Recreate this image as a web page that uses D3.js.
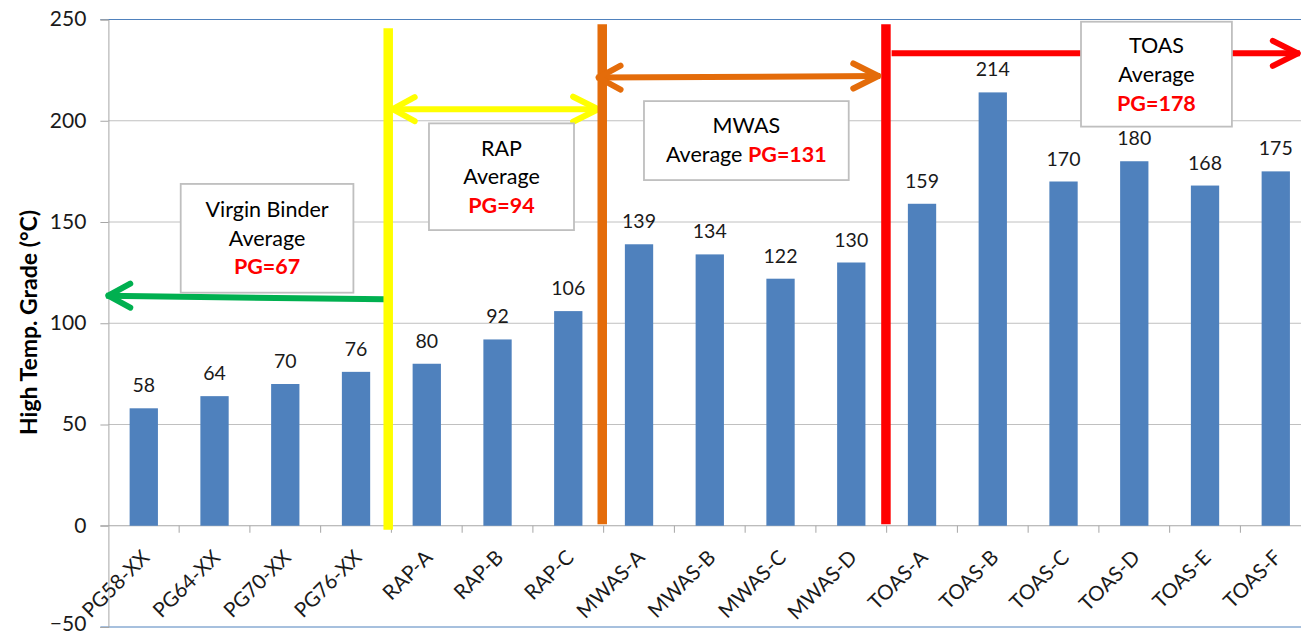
<!DOCTYPE html>
<html>
<head>
<meta charset="utf-8">
<script src="https://cdn.jsdelivr.net/npm/d3@7"></script>
<style>
  html, body { margin: 0; padding: 0; background: #ffffff; }
  svg { display: block; }
  text { font-family: Lato, "Open Sans", "Liberation Sans", sans-serif; }
</style>
</head>
<body>
<svg id="chart" width="1301" height="634"></svg>
<script>
// Binder samples and their high-temperature performance grade (°C)
const categories = ["PG58-XX", "PG64-XX", "PG70-XX", "PG76-XX",
                    "RAP-A", "RAP-B", "RAP-C",
                    "MWAS-A", "MWAS-B", "MWAS-C", "MWAS-D",
                    "TOAS-A", "TOAS-B", "TOAS-C", "TOAS-D", "TOAS-E", "TOAS-F"];
const gradeValues = [58, 64, 70, 76, 80, 92, 106, 139, 134, 122, 130,
                     159, 214, 170, 180, 168, 175];
const yTicks = [-50, 0, 50, 100, 150, 200, 250];

// Group averages
const groupNames = ["Virgin Binder", "RAP", "MWAS", "TOAS"];
const groupAverages = [67, 94, 131, 178];

const W = 1301, H = 634;
const svg = d3.select("#chart");

const left = 108.4, step = 70.75;
const x = d3.scaleBand()
  .domain(categories)
  .range([left, left + step * categories.length])
  .paddingInner(0.6)
  .paddingOuter(0.3);
// continuous position along the category axis (0 = left edge of the first slot)
const pos = d3.scaleLinear().domain([0, categories.length]).range(x.range());
const y = d3.scaleLinear().domain([-50, 250]).range([627, 19.5]);

const GRID = "#c0c0c0", AXIS = "#a6a6a6", FRAME = "#4f81bd";

// horizontal gridlines
svg.append("g").selectAll("line")
  .data([50, 100, 150, 200])
  .join("line")
  .attr("x1", left).attr("x2", W)
  .attr("y1", d => y(d)).attr("y2", d => y(d))
  .attr("stroke", GRID).attr("stroke-width", 1);

// top and bottom border of the plot area
svg.append("g").selectAll("line")
  .data([250, -50])
  .join("line")
  .attr("x1", left - 8).attr("x2", W)
  .attr("y1", d => y(d)).attr("y2", d => y(d))
  .attr("stroke", FRAME).attr("stroke-width", 1);

// y axis
const yAxis = svg.append("g")
  .attr("transform", `translate(${left},0)`)
  .call(d3.axisLeft(y).tickValues(yTicks).tickSize(8).tickPadding(14));
yAxis.select(".domain").attr("stroke", AXIS);
yAxis.selectAll(".tick line").attr("stroke", AXIS);
yAxis.selectAll(".tick text")
  .attr("fill", "#1a1a1a")
  .attr("dy", d => d === -50 ? "0.18em" : "0.3em")
  .style("font-size", "21px")
  .style("font-family", "Lato, 'Open Sans', sans-serif");

// zero line with category ticks
svg.append("line")
  .attr("x1", left - 8).attr("x2", W)
  .attr("y1", y(0)).attr("y2", y(0))
  .attr("stroke", AXIS).attr("stroke-width", 1);
svg.append("g").selectAll("line")
  .data(d3.range(1, categories.length))
  .join("line")
  .attr("x1", d => pos(d)).attr("x2", d => pos(d))
  .attr("y1", y(0)).attr("y2", y(0) + 7)
  .attr("stroke", AXIS);

// bars
svg.append("g").selectAll("rect")
  .data(categories)
  .join("rect")
  .attr("x", d => x(d))
  .attr("width", x.bandwidth())
  .attr("y", (d, i) => y(gradeValues[i]))
  .attr("height", (d, i) => y(0) - y(gradeValues[i]))
  .attr("fill", "#4f81bd");

// value labels
svg.append("g").selectAll("text")
  .data(categories)
  .join("text")
  .attr("x", d => x(d) + x.bandwidth() / 2)
  .attr("y", (d, i) => y(gradeValues[i]) - 16)
  .attr("text-anchor", "middle")
  .attr("fill", "#1a1a1a")
  .style("font-size", "19.5px")
  .text((d, i) => gradeValues[i]);

// category labels
svg.append("g").selectAll("text")
  .data(categories)
  .join("text")
  .attr("transform", d => `translate(${x(d) + x.bandwidth() / 2 + 7},${y(0) + 33}) rotate(-45)`)
  .attr("text-anchor", "end")
  .attr("fill", "#1a1a1a")
  .style("font-size", "20.5px")
  .text(d => d);

// y axis title
svg.append("text")
  .attr("transform", `translate(37,${322.5}) rotate(-90)`)
  .attr("text-anchor", "middle")
  .attr("fill", "#000")
  .style("font-size", "23px")
  .style("font-weight", "bold")
  .text("High Temp. Grade (°C)");

// ---- group annotations ----
const YELLOW = "#ffff00", ORANGE = "#e46c0a", RED = "#ff0000", GREEN = "#00b050";

// arrow helpers: a line with chevron heads
function chevron(g, tipX, tipY, dir, color, len, half) {
  g.append("path")
    .attr("d", `M${tipX - dir * len},${tipY - half} L${tipX},${tipY} L${tipX - dir * len},${tipY + half}`)
    .attr("fill", "none").attr("stroke", color)
    .attr("stroke-width", 6).attr("stroke-linecap", "round").attr("stroke-linejoin", "round");
}
function arrow(x0, v0, x1, v1, color, heads) {
  const g = svg.append("g");
  const X0 = pos(x0), Y0 = y(v0), X1 = pos(x1), Y1 = y(v1);
  g.append("line")
    .attr("x1", X0).attr("y1", Y0).attr("x2", X1).attr("y2", Y1)
    .attr("stroke", color).attr("stroke-width", 6);
  if (heads.includes("start")) chevron(g, X0 + 2, Y0, -1, color, 22, 12);
  if (heads.includes("end")) chevron(g, X1 - 2, Y1, 1, color, 25, 12.5);
}

// group boundaries (slot position, top value, bottom value)
const dividers = [
  { at: 3.955, top: 245.7, bottom: -2, color: YELLOW },
  { at: 6.98, top: 247.7, bottom: 0.8, color: ORANGE },
  { at: 10.99, top: 247.7, bottom: 0.8, color: RED }
];

arrow(-0.03, 113.6, 3.91, 111.8, GREEN, ["start"]);
arrow(3.99, 205.7, 6.95, 205.7, YELLOW, ["start", "end"]);
arrow(11.07, 233.3, 16.84, 233.3, RED, ["end"]);

svg.append("g").selectAll("line")
  .data(dividers)
  .join("line")
  .attr("x1", d => pos(d.at)).attr("x2", d => pos(d.at))
  .attr("y1", d => y(d.top)).attr("y2", d => y(d.bottom))
  .attr("stroke", d => d.color).attr("stroke-width", 9.5);

arrow(6.9, 221.3, 10.91, 222.1, ORANGE, ["start", "end"]);

// text boxes (slot positions and values of their corners)
const boxes = [
  { x0: 1.022, x1: 3.463, top: 168.8, bottom: 115.1, lines: [[groupNames[0]], ["Average"], [null, "PG=" + groupAverages[0]]], lh: 28.7, cy0: 209.3 },
  { x0: 4.531, x1: 6.581, top: 198.7, bottom: 146.0, lines: [[groupNames[1]], ["Average"], [null, "PG=" + groupAverages[1]]], lh: 28.4, cy0: 148.3 },
  { x0: 7.570, x1: 10.464, top: 209.7, bottom: 170.7, lines: [[groupNames[2]], ["Average ", "PG=" + groupAverages[2]]], lh: 29.3, cy0: 125 },
  { x0: 13.747, x1: 15.880, top: 248.9, bottom: 197.1, lines: [[groupNames[3]], ["Average"], [null, "PG=" + groupAverages[3]]], lh: 29.2, cy0: 45 }
];

boxes.forEach(b => {
  const g = svg.append("g");
  const bx = pos(b.x0), bw = pos(b.x1) - pos(b.x0);
  const by = y(b.top), bh = y(b.bottom) - y(b.top);
  g.append("rect")
    .attr("x", bx).attr("y", by).attr("width", bw).attr("height", bh)
    .attr("fill", "#fff").attr("stroke", "#bfbfbf").attr("stroke-width", 1.8);
  b.lines.forEach((ln, i) => {
    const t = g.append("text")
      .attr("x", bx + bw / 2)
      .attr("y", b.cy0 + i * b.lh)
      .attr("dy", "0.36em")
      .attr("text-anchor", "middle")
      .style("font-size", "21.5px");
    if (ln[0] !== null) t.append("tspan").attr("fill", "#000").text(ln[0]);
    if (ln[1] !== undefined) t.append("tspan").attr("fill", RED).style("font-weight", "bold").text(ln[1]);
  });
});
</script>
</body>
</html>
